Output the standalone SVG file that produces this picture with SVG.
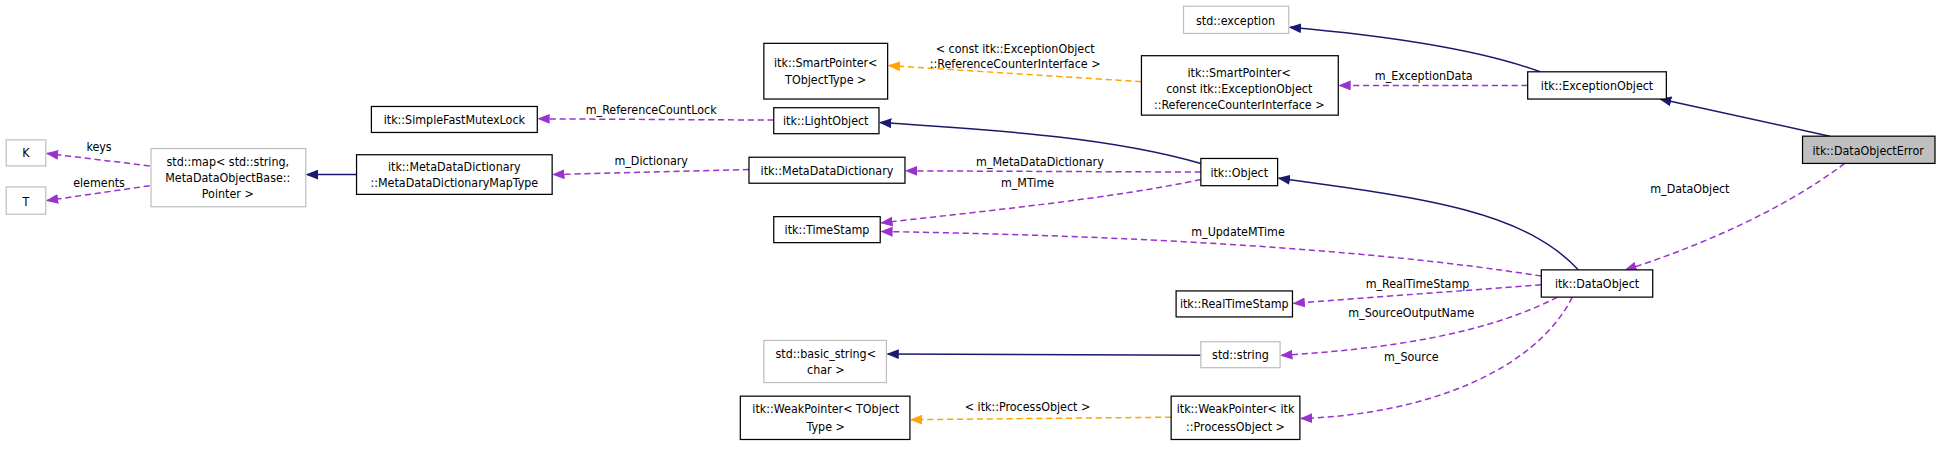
<svg xmlns="http://www.w3.org/2000/svg" width="1941" height="449" viewBox="0 0 1941 449">
<defs>
<style>
.n rect{fill:#fff;stroke:#000;stroke-width:1}
.g rect{fill:#fff;stroke:#bfbfbf;stroke-width:1}
.s rect{fill:#bfbfbf;stroke:#000;stroke-width:1}
text{font-family:"DejaVu Sans Condensed","DejaVu Sans",sans-serif;font-size:10px;fill:#000;text-anchor:middle}
.inh{fill:none;stroke:#191970;stroke-width:1.2}
.use{fill:none;stroke:#9a32cd;stroke-width:1.2;stroke-dasharray:5,3}
.tpl{fill:none;stroke:#ffa500;stroke-width:1.2;stroke-dasharray:5,3}
</style>
<marker id="aI" markerWidth="10" markerHeight="8" refX="9" refY="4" orient="auto" markerUnits="userSpaceOnUse"><path d="M0,0 L10,4 L0,8 z" fill="#191970"/></marker>
<marker id="aU" markerWidth="10" markerHeight="8" refX="9" refY="4" orient="auto" markerUnits="userSpaceOnUse"><path d="M0,0 L10,4 L0,8 z" fill="#9a32cd"/></marker>
<marker id="aT" markerWidth="10" markerHeight="8" refX="9" refY="4" orient="auto" markerUnits="userSpaceOnUse"><path d="M0,0 L10,4 L0,8 z" fill="#ffa500"/></marker>
</defs>
<rect width="1941" height="449" fill="#fff"/>
<g transform="scale(1.238)">
<g id="edges">
<path class="inh" d="M1244,58 C1190,38 1110,28 1042,22" marker-end="url(#aI)"/>
<path class="inh" d="M1478,110 L1341,80" marker-end="url(#aI)"/>
<path class="use" d="M1234,69 L1082,69" marker-end="url(#aU)"/>
<text x="1150" y="65">m_ExceptionData</text>
<path class="tpl" d="M922,66 L718,53" marker-end="url(#aT)"/>
<text x="820" y="43">&lt; const itk::ExceptionObject</text>
<text x="820" y="55">::ReferenceCounterInterface &gt;</text>
<path class="inh" d="M970,132 C900,112 820,106 711,99" marker-end="url(#aI)"/>
<path class="use" d="M625,97 L435,96" marker-end="url(#aU)"/>
<text x="526" y="92">m_ReferenceCountLock</text>
<path class="inh" d="M288,141 L248,141" marker-end="url(#aI)"/>
<path class="use" d="M121,134 L38,124" marker-end="url(#aU)"/>
<text x="80" y="122">keys</text>
<path class="use" d="M121,150 L38,162" marker-end="url(#aU)"/>
<text x="80" y="151">elements</text>
<path class="use" d="M605,137 L447,141" marker-end="url(#aU)"/>
<text x="526" y="133">m_Dictionary</text>
<path class="use" d="M970,139 L732,138" marker-end="url(#aU)"/>
<text x="840" y="134">m_MetaDataDictionary</text>
<path class="use" d="M970,145 C900,160 800,170 712,180" marker-end="url(#aU)"/>
<text x="830" y="151">m_MTime</text>
<path class="inh" d="M1275,218 C1230,170 1150,160 1033,144" marker-end="url(#aI)"/>
<path class="use" d="M1245,223 C1100,200 900,190 712,187" marker-end="url(#aU)"/>
<text x="1000" y="191">m_UpdateMTime</text>
<path class="use" d="M1490,132 C1440,170 1370,200 1313,218" marker-end="url(#aU)"/>
<text x="1365" y="156">m_DataObject</text>
<path class="use" d="M1245,230 L1045,245" marker-end="url(#aU)"/>
<text x="1145" y="233">m_RealTimeStamp</text>
<path class="use" d="M1258,240 C1200,270 1120,282 1035,287" marker-end="url(#aU)"/>
<text x="1140" y="256">m_SourceOutputName</text>
<path class="use" d="M1270,240 C1240,300 1150,335 1051,338" marker-end="url(#aU)"/>
<text x="1140" y="292">m_Source</text>
<path class="inh" d="M970,287 L717,286" marker-end="url(#aI)"/>
<path class="tpl" d="M946,337 L736,339" marker-end="url(#aT)"/>
<text x="830" y="332">&lt; itk::ProcessObject &gt;</text>
</g>
<g id="n_exception" class="g"><rect x="956" y="5" width="85" height="22"/><text x="998" y="20">std::exception</text></g>
<g id="n_sp_t" class="n"><rect x="617" y="35" width="100" height="45"/><text x="667" y="54">itk::SmartPointer&lt;</text><text x="667" y="68">TObjectType &gt;</text></g>
<g id="n_sp_c" class="n"><rect x="922" y="45" width="159" height="48"/><text x="1001" y="62">itk::SmartPointer&lt;</text><text x="1001" y="75">const itk::ExceptionObject</text><text x="1001" y="88">::ReferenceCounterInterface &gt;</text></g>
<g id="n_excobj" class="n"><rect x="1234" y="58" width="112" height="22"/><text x="1290" y="73">itk::ExceptionObject</text></g>
<g id="n_mutex" class="n"><rect x="300" y="86" width="134" height="21"/><text x="367" y="100">itk::SimpleFastMutexLock</text></g>
<g id="n_light" class="n"><rect x="625" y="87" width="85" height="21"/><text x="667" y="101">itk::LightObject</text></g>
<g id="n_K" class="g"><rect x="5" y="113" width="32" height="21"/><text x="21" y="127">K</text></g>
<g id="n_T" class="g"><rect x="5" y="151" width="32" height="22"/><text x="21" y="166">T</text></g>
<g id="n_map" class="g"><rect x="122" y="120" width="125" height="47"/><text x="184" y="134">std::map&lt; std::string,</text><text x="184" y="147">MetaDataObjectBase::</text><text x="184" y="160">Pointer &gt;</text></g>
<g id="n_mapType" class="n"><rect x="288" y="125" width="158" height="32"/><text x="367" y="138">itk::MetaDataDictionary</text><text x="367" y="151">::MetaDataDictionaryMapType</text></g>
<g id="n_mdd" class="n"><rect x="605" y="127" width="126" height="21"/><text x="668" y="141">itk::MetaDataDictionary</text></g>
<g id="n_object" class="n"><rect x="970" y="128" width="62" height="22"/><text x="1001" y="143">itk::Object</text></g>
<g id="n_doe" class="s"><rect x="1456" y="110" width="107" height="22"/><text x="1509" y="125">itk::DataObjectError</text></g>
<g id="n_ts" class="n"><rect x="625" y="175" width="86" height="21"/><text x="668" y="189">itk::TimeStamp</text></g>
<g id="n_dataobj" class="n"><rect x="1245" y="218" width="90" height="22"/><text x="1290" y="233">itk::DataObject</text></g>
<g id="n_rts" class="n"><rect x="950" y="235" width="94" height="21"/><text x="997" y="249">itk::RealTimeStamp</text></g>
<g id="n_bstr" class="g"><rect x="617" y="275" width="99" height="34"/><text x="667" y="289">std::basic_string&lt;</text><text x="667" y="302">char &gt;</text></g>
<g id="n_str" class="g"><rect x="970" y="276" width="64" height="21"/><text x="1002" y="290">std::string</text></g>
<g id="n_wp_t" class="n"><rect x="598" y="320" width="137" height="35"/><text x="667" y="334">itk::WeakPointer&lt; TObject</text><text x="667" y="348">Type &gt;</text></g>
<g id="n_wp_p" class="n"><rect x="946" y="320" width="104" height="35"/><text x="998" y="334">itk::WeakPointer&lt; itk</text><text x="998" y="348">::ProcessObject &gt;</text></g>
</g>
</svg>
